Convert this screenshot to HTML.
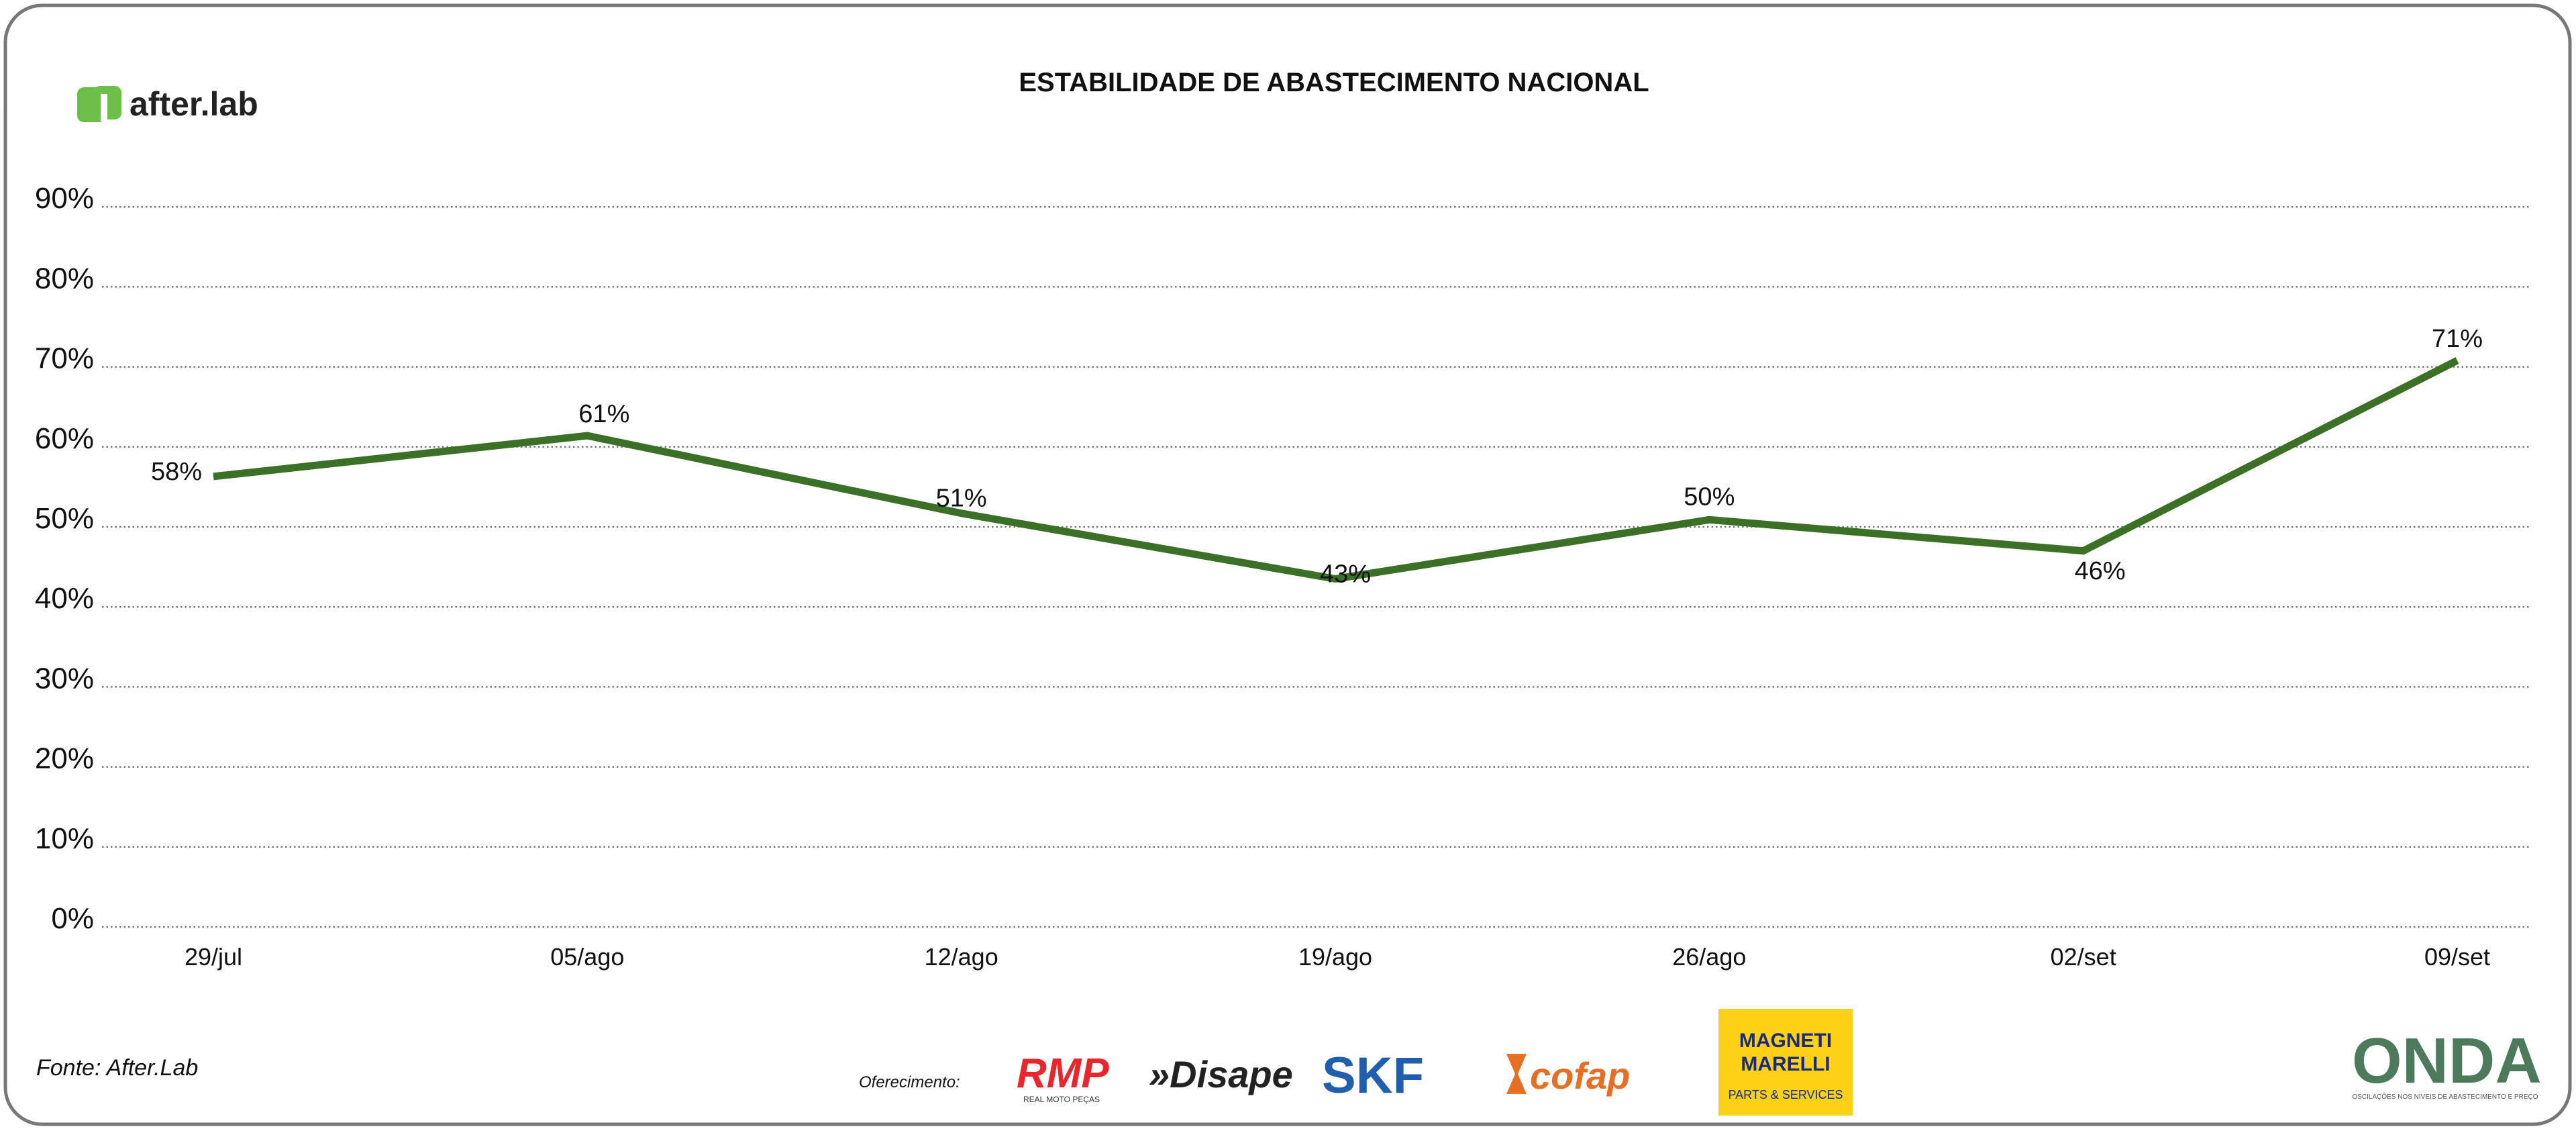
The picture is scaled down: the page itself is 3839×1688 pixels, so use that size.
<!DOCTYPE html>
<html><head><meta charset="utf-8"><style>
html,body{margin:0;padding:0;background:#fff;}
body{width:3839px;height:1683px;overflow:hidden;font-family:"Liberation Sans",sans-serif;}
</style></head><body>
<svg id="chart" width="3839" height="1683" viewBox="0 0 3839 1683" xmlns="http://www.w3.org/2000/svg">
<rect x="8" y="8" width="3822" height="1667" rx="55" fill="#fff" stroke="#777" stroke-width="5"/>
<g>
<rect x="115" y="130" width="42" height="52" rx="10" fill="#6cc04a"/>
<rect x="139" y="128" width="42" height="50" rx="10" fill="#6cc04a"/>
<rect x="150" y="140" width="10" height="40" fill="#fff"/>
<text x="193" y="172" font-size="50" font-weight="bold" fill="#222">after.lab</text>
</g>
<text x="1988" y="136" font-size="40" font-weight="bold" text-anchor="middle" fill="#111">ESTABILIDADE DE ABASTECIMENTO NACIONAL</text>
<g id="grid"></g>
<g id="yticks"></g>
<g id="xticks"></g>
<g id="series"></g>
<text x="54" y="1602" font-size="34" font-style="italic" fill="#111">Fonte: After.Lab</text>
<text x="1280" y="1620" font-size="24" font-style="italic" fill="#111">Oferecimento:</text>
<g>
<text x="1515" y="1620" font-size="62" font-weight="bold" font-style="italic" fill="#e8262b">RMP</text>
<text x="1525" y="1642" font-size="12" fill="#333">REAL MOTO PEÇAS</text>
</g>
<text x="1712" y="1620" font-size="56" font-weight="bold" font-style="italic" fill="#222">»Disape</text>
<text x="1970" y="1628" font-size="76" font-weight="bold" fill="#1f5fae">SKF</text>
<g>
<polygon points="2245,1570 2275,1570 2262,1600 2275,1630 2245,1630 2258,1600" fill="#e56f24"/>
<text x="2280" y="1622" font-size="56" font-weight="bold" font-style="italic" fill="#e56f24">cofap</text>
</g>
<g>
<rect x="2561" y="1503" width="200" height="159" fill="#fcd116"/>
<text x="2661" y="1560" font-size="30" font-weight="bold" text-anchor="middle" fill="#1b2a7a">MAGNETI</text>
<text x="2661" y="1595" font-size="30" font-weight="bold" text-anchor="middle" fill="#1b2a7a">MARELLI</text>
<text x="2661" y="1637" font-size="18" text-anchor="middle" fill="#1b2a7a">PARTS &amp; SERVICES</text>
</g>
<g>
<text x="3505" y="1613" font-size="96" font-weight="bold" fill="#4d7a5a">ONDA</text>
<text x="3644" y="1637" font-size="10" text-anchor="middle" fill="#555">OSCILAÇÕES NOS NÍVEIS DE ABASTECIMENTO E PREÇO</text>
</g>
</svg>
<script>
const categories=["29/jul","05/ago","12/ago","19/ago","26/ago","02/set","09/set"];
const values=[56.3,61.4,51.7,43.5,50.9,47.0,70.8];
const valueLabels=["58%","61%","51%","43%","50%","46%","71%"];
const yTicks=[0,10,20,30,40,50,60,70,80,90];
const NS="http://www.w3.org/2000/svg";
const x0=318,x1=3662,yBase=1381,yPer=11.92;
const xs=i=>x0+(x1-x0)*i/(categories.length-1);
const ys=v=>yBase-v*yPer;
function mk(tag,attrs,parent,txt){const e=document.createElementNS(NS,tag);for(const k in attrs)e.setAttribute(k,attrs[k]);if(txt!==undefined)e.textContent=txt;parent.appendChild(e);return e;}
const grid=document.getElementById('grid'),yt=document.getElementById('yticks'),xt=document.getElementById('xticks'),ser=document.getElementById('series');
yTicks.forEach(t=>{
 const l=mk('line',{x1:152,x2:3772,y1:ys(t),y2:ys(t),stroke:'#777','stroke-width':2.5,'stroke-dasharray':'2.5 4'},grid);
 
 
 const tx=mk('text',{x:140,y:ys(t)+2,'font-size':44,'text-anchor':'end',fill:'#111'},yt,t+'%');
 
 
});
categories.forEach((c,i)=>{
 const tx=mk('text',{x:xs(i),y:1438,'font-size':36,'text-anchor':'middle',fill:'#111'},xt,c);
 
 
});
const pts=values.map((v,i)=>xs(i)+','+ys(v)).join(' ');
const pl=mk('polyline',{points:pts,fill:'none',stroke:'#3b7026','stroke-width':11,'stroke-linejoin':'miter'},ser);


const offs=[[-55,5],[25,-20],[0,-10],[15,5],[0,-22],[25,42],[0,-20]];
values.forEach((v,i)=>{
 const tx=mk('text',{x:xs(i)+offs[i][0],y:ys(v)+offs[i][1],'font-size':38,'text-anchor':'middle',fill:'#111'},ser,valueLabels[i]);
 
 
});
</script>
</body></html>
